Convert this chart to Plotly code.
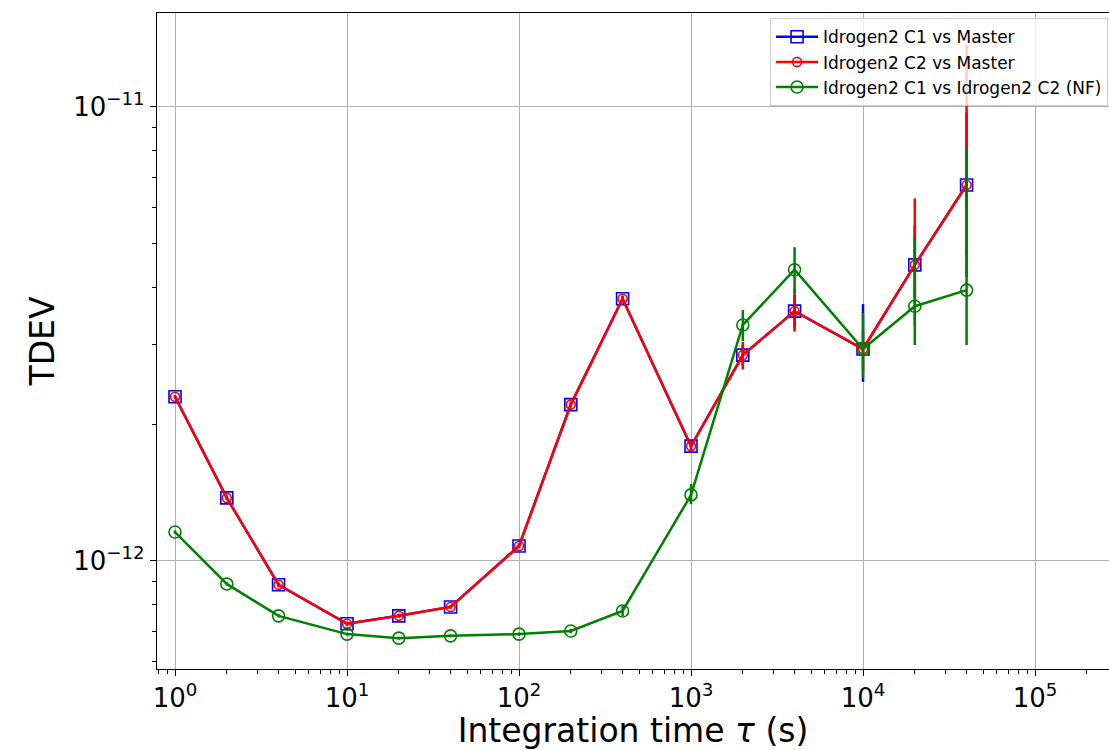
import plotly.graph_objects as go

# Averaging times (s)
tau = [1, 2, 4, 10, 20, 40, 100, 200, 400, 1000, 2000, 4000, 10000, 20000, 40000]

# TDEV of each comparison
tdev_c1_master = [2.30e-12, 1.377e-12, 0.886e-12, 0.727e-12, 0.757e-12, 0.792e-12, 1.079e-12,
                  2.21e-12, 3.78e-12, 1.79e-12, 2.84e-12, 3.55e-12, 2.93e-12, 4.49e-12, 6.73e-12]
tdev_c2_master = [2.30e-12, 1.377e-12, 0.886e-12, 0.727e-12, 0.757e-12, 0.792e-12, 1.079e-12,
                  2.21e-12, 3.78e-12, 1.79e-12, 2.84e-12, 3.55e-12, 2.93e-12, 4.49e-12, 6.73e-12]
tdev_c1_c2 = [1.158e-12, 0.890e-12, 0.757e-12, 0.690e-12, 0.676e-12, 0.684e-12, 0.690e-12,
              0.701e-12, 0.776e-12, 1.398e-12, 3.31e-12, 4.38e-12, 2.93e-12, 3.64e-12, 3.95e-12]

# Error bars (upper / lower)
err_c1_master_up = [0.015e-12, 0.012e-12, 0.008e-12, 0.006e-12, 0.006e-12, 0.006e-12, 0.010e-12,
                    0.025e-12, 0.05e-12, 0.04e-12, 0.15e-12, 0.30e-12, 0.75e-12, 1.0e-12, 3.0e-12]
err_c1_master_dn = [0.015e-12, 0.012e-12, 0.008e-12, 0.006e-12, 0.006e-12, 0.006e-12, 0.010e-12,
                    0.025e-12, 0.05e-12, 0.04e-12, 0.15e-12, 0.30e-12, 0.45e-12, 0.8e-12, 2.0e-12]
err_c2_master_up = [0.02e-12, 0.015e-12, 0.01e-12, 0.008e-12, 0.008e-12, 0.008e-12, 0.012e-12,
                    0.03e-12, 0.06e-12, 0.05e-12, 0.20e-12, 0.42e-12, 0.30e-12, 1.80e-12, 7.0e-12]
err_c2_master_dn = [0.02e-12, 0.015e-12, 0.01e-12, 0.008e-12, 0.008e-12, 0.008e-12, 0.012e-12,
                    0.03e-12, 0.06e-12, 0.05e-12, 0.20e-12, 0.35e-12, 0.30e-12, 1.20e-12, 2.5e-12]
err_c1_c2_up = [0.01e-12, 0.008e-12, 0.006e-12, 0.005e-12, 0.005e-12, 0.005e-12, 0.006e-12,
                0.008e-12, 0.02e-12, 0.08e-12, 0.26e-12, 0.53e-12, 0.59e-12, 1.53e-12, 4.18e-12]
err_c1_c2_dn = [0.01e-12, 0.008e-12, 0.006e-12, 0.005e-12, 0.005e-12, 0.005e-12, 0.006e-12,
                0.008e-12, 0.02e-12, 0.065e-12, 0.26e-12, 0.50e-12, 0.40e-12, 0.65e-12, 0.96e-12]

series_names = ["Idrogen2 C1 vs Master", "Idrogen2 C2 vs Master",
                "Idrogen2 C1 vs Idrogen2 C2 (NF)"]

x_tickvals = [1, 10, 100, 1000, 10000, 100000]
x_ticktext = ["10<sup>0</sup>", "10<sup>1</sup>", "10<sup>2</sup>",
              "10<sup>3</sup>", "10<sup>4</sup>", "10<sup>5</sup>"]
y_tickvals = [1e-12, 1e-11]
y_ticktext = ["10<sup>−12</sup>", "10<sup>−11</sup>"]

# Minor (sub-decade) tick positions
x_minor = [m * 10.0 ** k for k in range(-1, 6) for m in range(2, 10)]
y_minor = [m * 10.0 ** k for k in (-13, -12, -11) for m in range(2, 10)]

FONT = "DejaVu Sans"

fig = go.Figure()


def add_series(y, up, dn, name, color, symbol, size):
    fig.add_trace(go.Scatter(
        x=tau, y=y, name=name, mode="lines+markers",
        line=dict(color=color, width=2.5),
        marker=dict(symbol=symbol, size=size, color=color,
                    line=dict(color=color, width=1.6)),
        error_y=dict(type="data", symmetric=False, array=up, arrayminus=dn,
                     color=color, thickness=2.5, width=0),
    ))


add_series(tdev_c1_master, err_c1_master_up, err_c1_master_dn,
           series_names[0], "#0000ff", "square-open", 12)
add_series(tdev_c2_master, err_c2_master_up, err_c2_master_dn,
           series_names[1], "#ff0000", "circle-open", 9)
add_series(tdev_c1_c2, err_c1_c2_up, err_c1_c2_dn,
           series_names[2], "#008000", "circle-open", 12)

axis_common = dict(
    type="log", showline=True, linecolor="black", linewidth=1.2,
    ticks="outside", ticklen=6, tickwidth=1.2, tickcolor="black",
    showgrid=True, gridcolor="#b0b0b0", gridwidth=1,
    tickfont=dict(family=FONT, size=26, color="black"),
    zeroline=False,
)
minor_common = dict(ticks="outside", ticklen=3.5, tickwidth=1, tickcolor="black", showgrid=False)

fig.update_layout(
    width=1109, height=750,
    margin=dict(l=157, r=0, t=13, b=81),
    paper_bgcolor="white", plot_bgcolor="white",
    font=dict(family=FONT, color="black"),
    showlegend=True,
    legend=dict(
        x=0.999, y=0.992, xanchor="right", yanchor="top",
        bgcolor="rgba(255,255,255,0.8)", bordercolor="#cccccc", borderwidth=1,
        font=dict(family=FONT, size=17, color="black"),
        itemwidth=42,
    ),
    xaxis=dict(
        axis_common, range=[-0.1047, 5.430], mirror=True,
        tickvals=x_tickvals, ticktext=x_ticktext,
        minor=dict(minor_common, tickvals=x_minor),
        title=dict(text="Integration time <i>τ</i> (s)", font=dict(family=FONT, size=33),
                   standoff=8),
    ),
    yaxis=dict(
        axis_common, range=[-12.238, -10.793],
        tickvals=y_tickvals, ticktext=y_ticktext,
        minor=dict(minor_common, tickvals=y_minor),
        title=dict(text="TDEV", font=dict(family=FONT, size=33), standoff=8),
    ),
)

fig.write_html("out.html")
